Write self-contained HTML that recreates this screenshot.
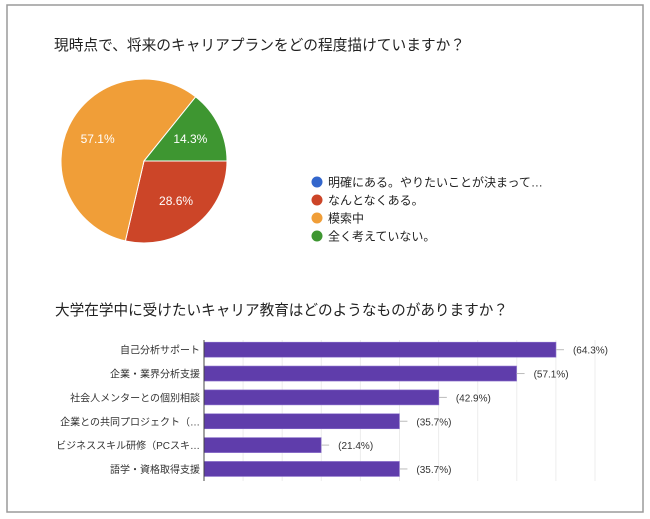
<!DOCTYPE html>
<html><head><meta charset="utf-8"><style>
html,body{margin:0;padding:0;background:#fff;}
svg{display:block;font-family:"Liberation Sans","Noto Sans CJK JP",sans-serif;}
</style></head><body>
<svg width="650" height="519" viewBox="0 0 650 519">
<rect x="7" y="5" width="636" height="507" fill="#fff" stroke="#9a9a9a" stroke-width="1.5"/>
<text x="54" y="50" font-size="15" fill="#222" textLength="411" lengthAdjust="spacingAndGlyphs">現時点で、将来のキャリアプランをどの程度描けていますか？</text>
<g id="pie"></g>
<g id="legend"></g>
<text x="55" y="315" font-size="15" fill="#222" textLength="453" lengthAdjust="spacingAndGlyphs">大学在学中に受けたいキャリア教育はどのようなものがありますか？</text>
<g id="bars"></g>
</svg>
<script>
const pieLabels=["明確にある。やりたいことが決まって…","なんとなくある。","模索中","全く考えていない。"];
const pieValues=[0,28.6,57.1,14.3];
const pieColors=["#3366cc","#cc4528","#f09e38","#3e9631"];
const barCategories=["自己分析サポート","企業・業界分析支援","社会人メンターとの個別相談","企業との共同プロジェクト（…","ビジネススキル研修（PCスキ…","語学・資格取得支援"];
const barValues=[64.3,57.1,42.9,35.7,21.4,35.7];
const NS="http://www.w3.org/2000/svg";
function mk(t,a,p){const e=document.createElementNS(NS,t);for(const k in a)e.setAttribute(k,a[k]);p.appendChild(e);return e;}
// pie
const pie=document.getElementById('pie');
const cx=144,cy=161,rx=83,ry=82;
let total=pieValues.reduce((a,b)=>a+b,0);
let ang=90;
pieValues.forEach((v,i)=>{
  if(v<=0)return;
  const a0=ang,a1=ang+v/total*360;ang=a1;
  const p=(a)=>[cx+rx*Math.sin(a*Math.PI/180),cy-ry*Math.cos(a*Math.PI/180)];
  const s=p(a0),e=p(a1);
  const large=(a1-a0)>180?1:0;
  const path=mk('path',{d:`M${cx},${cy}L${s[0]},${s[1]}A${rx},${ry} 0 ${large} 1 ${e[0]},${e[1]}Z`,fill:pieColors[i],stroke:'#fff','stroke-width':1},pie);
  
  
  const m=(a0+a1)/2,lp=[cx+rx*0.62*Math.sin(m*Math.PI/180),cy-ry*0.62*Math.cos(m*Math.PI/180)];
  const t=mk('text',{x:lp[0],y:lp[1]+4,'font-size':12,fill:'#fff','text-anchor':'middle'},pie);
  t.textContent=v.toFixed(1)+'%';
  
  
});
const lg=document.getElementById('legend');
pieLabels.forEach((l,i)=>{
  const y=182+i*18;
  const g=mk('g',{},lg);
  
  
  mk('circle',{cx:317,cy:y,r:5.5,fill:pieColors[i]},g);
  const t=mk('text',{x:328,y:y+4.5,'font-size':12,fill:'#222'},g);
  t.textContent=l;
});
// bars
const bg=document.getElementById('bars');
const x0=204,pxPer=5.474,rowY0=349.7,rowStep=23.85,bh=15;
const xs=v=>x0+v*pxPer;
for(let k=1;k<=10;k++){
  const gx=xs(k*100/14);
  const gl=mk('line',{x1:gx,x2:gx,y1:340,y2:481,stroke:'#ececec','stroke-width':1},bg);
  
  
}
barCategories.forEach((c,i)=>{
  const cyb=rowY0+i*rowStep;
  const r=mk('rect',{x:x0,y:cyb-bh/2,width:xs(barValues[i])-x0,height:bh,fill:'#5f3dab',stroke:'#8a70cc','stroke-width':0.6},bg);
  
  
  const tk=mk('line',{x1:xs(barValues[i]),x2:xs(barValues[i])+8,y1:cyb,y2:cyb,stroke:'#bbb','stroke-width':1},bg);
  
  
  const vt=mk('text',{x:xs(barValues[i])+17,y:cyb+4,'font-size':10,fill:'#333'},bg);
  vt.textContent='('+barValues[i].toFixed(1)+'%)';
  
  
  const ct=mk('text',{x:200,y:cyb+4,'font-size':10,fill:'#333','text-anchor':'end'},bg);
  ct.textContent=c;
  
  
});
const ax=mk('line',{x1:x0,x2:x0,y1:340,y2:481,stroke:'#444','stroke-width':1},bg);


</script>
</body></html>
